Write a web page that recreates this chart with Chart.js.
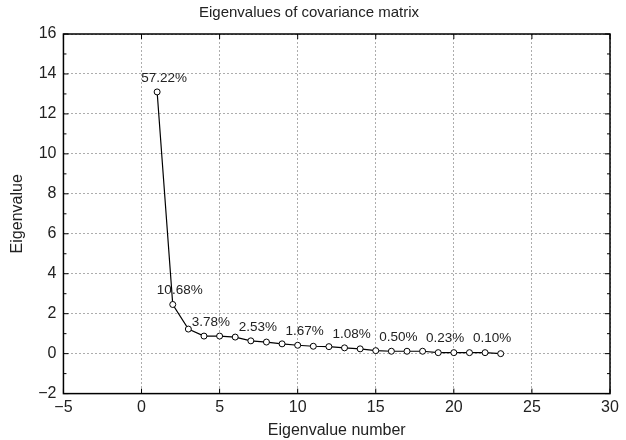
<!DOCTYPE html>
<html lang="en">
<head>
  <meta charset="UTF-8">
  <title>Eigenvalues of covariance matrix</title>
  <script src="https://cdn.jsdelivr.net/npm/chart.js"></script>
  <style>
    body { margin: 0; background: #fff; }
    #wrap { width: 626px; height: 440px; }
  </style>
</head>
<body>
  <div id="wrap"><canvas id="grafico" width="626" height="440"></canvas></div>
  <script>
    // eigenvalue index and value
    const numeros = [1, 2, 3, 4, 5, 6, 7, 8, 9, 10, 11, 12, 13, 14, 15, 16, 17, 18, 19, 20, 21, 22, 23];
    const autovalores = [13.1, 2.46, 1.23, 0.88, 0.88, 0.83, 0.64, 0.58, 0.49, 0.42, 0.37, 0.35, 0.29, 0.24, 0.15, 0.12, 0.12, 0.12, 0.05, 0.05, 0.05, 0.05, 0.0];
    // percentage labels and the eigenvalue number they sit above
    const rotuloNumero = [1, 2, 4, 7, 10, 13, 16, 19, 22];
    const rotuloTexto = ['57.22%', '10.68%', '3.78%', '2.53%', '1.67%', '1.08%', '0.50%', '0.23%', '0.10%'];
    const xTicks = [-5, 0, 5, 10, 15, 20, 25, 30];
    const yTicks = [-2, 0, 2, 4, 6, 8, 10, 12, 14, 16];

    const fonte = 'Arial, "Liberation Sans", sans-serif';

    const molduraPlugin = {
      id: 'moldura',
      afterDraw(chart) {
        const { ctx, chartArea: a, scales } = chart;
        ctx.save();
        ctx.strokeStyle = '#000';
        ctx.lineWidth = 1.5;
        ctx.strokeRect(a.left, a.top, a.right - a.left, a.bottom - a.top);
        ctx.lineWidth = 1;
        // minor ticks on y (every 1), major on x
        for (let v = -2; v <= 16; v++) {
          const y = scales.y.getPixelForValue(v);
          const len = v % 2 === 0 ? 5 : 3;
          ctx.beginPath();
          ctx.moveTo(a.left, y); ctx.lineTo(a.left + len, y);
          ctx.moveTo(a.right, y); ctx.lineTo(a.right - len, y);
          ctx.stroke();
        }
        xTicks.forEach(v => {
          const x = scales.x.getPixelForValue(v);
          ctx.beginPath();
          ctx.moveTo(x, a.bottom); ctx.lineTo(x, a.bottom - 5);
          ctx.moveTo(x, a.top); ctx.lineTo(x, a.top + 5);
          ctx.stroke();
        });
        // percentage labels
        ctx.fillStyle = '#222';
        ctx.font = '13.5px ' + fonte;
        ctx.textAlign = 'center';
        ctx.textBaseline = 'middle';
        rotuloNumero.forEach((n, i) => {
          const x = scales.x.getPixelForValue(n) + 7;
          const y = scales.y.getPixelForValue(autovalores[n - 1]) - 14;
          ctx.fillText(rotuloTexto[i], x, y);
        });
        ctx.restore();
      }
    };

    new Chart(document.getElementById('grafico'), {
      type: 'scatter',
      data: {
        datasets: [{
          data: numeros.map((n, i) => ({ x: n, y: autovalores[i] })),
          showLine: true,
          borderColor: '#000',
          borderWidth: 1.2,
          pointRadius: 3,
          pointBackgroundColor: '#fff',
          pointBorderColor: '#000',
          pointBorderWidth: 1
        }]
      },
      options: {
        responsive: false,
        animation: false,
        layout: { padding: { top: 0, right: 16, bottom: 0, left: 8 } },
        plugins: {
          legend: { display: false },
          tooltip: { enabled: false },
          title: {
            display: true,
            text: 'Eigenvalues of covariance matrix',
            color: '#222',
            font: { family: fonte, size: 15, weight: 'normal' },
            padding: { top: 4, bottom: 12 }
          }
        },
        scales: {
          x: {
            type: 'linear',
            min: -5, max: 30,
            afterBuildTicks: s => { s.ticks = xTicks.map(v => ({ value: v })); },
            ticks: {
              color: '#222',
              font: { family: fonte, size: 16 },
              padding: 4,
              callback: v => v < 0 ? '\u2212' + Math.abs(v) : v
            },
            grid: { color: '#999', lineWidth: 0.8, drawTicks: false },
            border: { display: false, dash: [2, 2] },
            title: {
              display: true,
              text: 'Eigenvalue number',
              color: '#222',
              font: { family: fonte, size: 16 },
              padding: { top: 0, bottom: 0 }
            }
          },
          y: {
            min: -2, max: 16,
            afterBuildTicks: s => { s.ticks = yTicks.map(v => ({ value: v })); },
            ticks: {
              color: '#222',
              font: { family: fonte, size: 16 },
              padding: 7,
              callback: v => v < 0 ? '\u2212' + Math.abs(v) : v
            },
            grid: { color: '#999', lineWidth: 0.8, drawTicks: false },
            border: { display: false, dash: [2, 2] },
            title: {
              display: true,
              text: 'Eigenvalue',
              color: '#222',
              font: { family: fonte, size: 16 },
              padding: { top: 0, bottom: 4 }
            }
          }
        }
      },
      plugins: [molduraPlugin]
    });
  </script>
</body>
</html>
